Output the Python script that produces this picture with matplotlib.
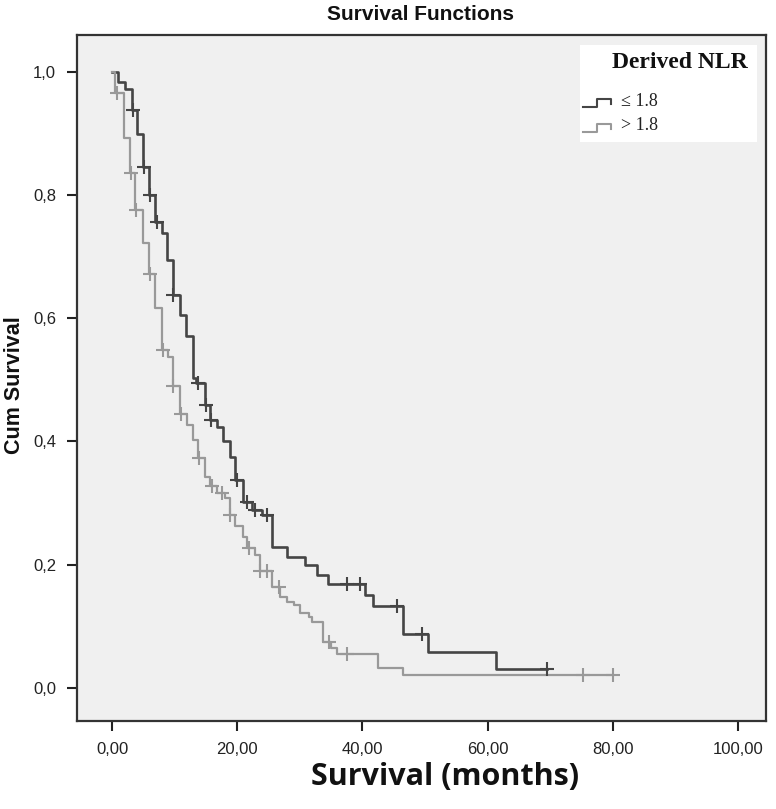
import numpy as np
import matplotlib
matplotlib.use("Agg")
import matplotlib.pyplot as plt
from matplotlib.lines import Line2D
from matplotlib.patches import Rectangle

# ---- data ----
low_times = [0, 1.0, 2.1, 3.2, 4.0, 5.0, 5.9, 6.9, 8.0, 8.8, 9.7, 10.9, 11.8, 12.9, 13.4,
             14.9, 15.7, 16.8, 17.7, 18.9, 19.6, 20.9, 22.4, 24.0, 25.6, 28.0, 30.8,
             32.7, 34.5, 40.4, 41.7, 46.5, 50.5, 61.3]
low_surv = [1.0, 0.984, 0.972, 0.938, 0.90, 0.846, 0.80, 0.756, 0.738, 0.695, 0.638,
            0.605, 0.571, 0.503, 0.495, 0.459, 0.435, 0.424, 0.40, 0.375, 0.338, 0.302,
            0.289, 0.281, 0.229, 0.213, 0.20, 0.183, 0.169, 0.151, 0.132, 0.088, 0.058,
            0.031]
low_censor = [3.3, 5.1, 6.0, 7.2, 9.8, 13.8, 15.0, 15.8, 20.0, 21.6, 22.9, 24.8,
              37.5, 39.6, 45.5, 49.5, 69.5]
low_end = 69.5

high_times = [0, 0.5, 1.9, 2.9, 3.7, 4.9, 5.9, 6.9, 8.0, 9.0, 9.7, 10.9, 12.0, 12.9,
              13.7, 14.9, 15.6, 16.8, 18.0, 18.8, 19.6, 20.9, 21.6, 22.8, 23.6, 25.6,
              26.8, 28.0, 29.0, 30.0, 31.5, 32.0, 33.7, 35.0, 36.0, 42.5, 46.5]
high_surv = [1.0, 0.966, 0.893, 0.836, 0.776, 0.722, 0.672, 0.617, 0.549, 0.537, 0.49,
             0.445, 0.427, 0.403, 0.373, 0.343, 0.327, 0.316, 0.308, 0.281, 0.262,
             0.245, 0.227, 0.216, 0.189, 0.164, 0.148, 0.14, 0.135, 0.122, 0.115,
             0.107, 0.075, 0.065, 0.054, 0.032, 0.021]
high_censor = [0.8, 3.0, 3.8, 6.0, 8.1, 9.8, 11.0, 13.9, 15.9, 17.5, 18.9, 21.9, 23.7,
               24.8, 26.6, 34.6, 37.5, 75.2, 80.0]
high_end = 80.0

groups = ["\u2264 1.8", "> 1.8"]
legend_title = "Derived NLR"
x_ticks = [0, 20, 40, 60, 80, 100]
y_ticks = [0.0, 0.2, 0.4, 0.6, 0.8, 1.0]

colors = ["#454545", "#999999"]

fig = plt.figure(figsize=(7.76, 8.09), dpi=100)
ax = fig.add_axes([77/776, 1-721/809, (766-77)/776, (721-35)/809])
ax.set_facecolor("#f0f0f0")


def step_value(times, surv, t):
    idx = np.searchsorted(np.asarray(times), t, side="right") - 1
    return np.asarray(surv)[idx]


for times, surv, cens, end, col, lw in [
        (low_times, low_surv, low_censor, low_end, colors[0], 1.9),
        (high_times, high_surv, high_censor, high_end, colors[1], 1.6)]:
    tt = list(times) + [end]
    ss = list(surv) + [surv[-1]]
    ax.step(tt, ss, where="post", color=col, lw=lw, zorder=3)
    cv = step_value(times, surv, np.asarray(cens))
    ax.plot(cens, cv, ls="none", marker="+", ms=10, mew=1.5, color=col, zorder=4)

ax.set_xlim(-5.6, 104.5)
ax.set_ylim(-0.054, 1.06)
ax.set_xticks(x_ticks)
ax.set_xticklabels([f"{v:.2f}".replace(".", ",") for v in x_ticks])
ax.set_yticks(y_ticks)
ax.set_yticklabels([f"{v:.1f}".replace(".", ",") for v in y_ticks])
ax.tick_params(direction="out", length=7, width=1.5, color="#222222",
               labelsize=12, pad=8, labelcolor="#222222")
for lab in ax.get_xticklabels() + ax.get_yticklabels():
    lab.set_fontfamily("Liberation Sans")
for sp in ax.spines.values():
    sp.set_linewidth(1.6)
    sp.set_color("#333333")

fig.text(421/776, 1-15/809, "Survival Functions", ha="center", va="center",
         fontsize=15, fontweight="bold", family="Liberation Sans", color="#111111")
fig.text(15/776, 1-385/809, "Cum Survival", ha="center", va="center", rotation=90,
         fontsize=15.5, fontweight="bold", family="Liberation Sans", color="#111111")
fig.text(445/776, 1-777/809, "Survival (months)", ha="center", va="center",
         fontsize=22, fontweight="bold", family="Open Sans", color="#111111")

# legend box
bx0, bx1 = (580-77)/689, (757-77)/689
by0, by1 = (721-142)/686, (721-45)/686
ax.add_patch(Rectangle((bx0, by0), bx1-bx0, by1-by0, transform=ax.transAxes,
                       facecolor="white", edgecolor="none", zorder=5))
ax.text((680-77)/689, (721-62)/686, legend_title, transform=ax.transAxes,
        ha="center", va="center", fontsize=17, fontweight="bold",
        family="Liberation Serif", color="#111111", zorder=6)
for i, (g, col) in enumerate(zip(groups, colors)):
    yb = 107 + 25*i
    xs = np.array([583, 597, 597, 611, 611])
    ys = np.array([yb, yb, yb-8, yb-8, yb-3])
    ax.add_line(Line2D((xs-77)/689, (721-ys)/686, transform=ax.transAxes,
                       color=col, lw=1.5, zorder=6))
    ax.text((621-77)/689, (721-(yb-6))/686, g, transform=ax.transAxes,
            ha="left", va="center", fontsize=13, family="Liberation Serif",
            color="#222222", zorder=6)

fig.savefig("out.png", dpi=100, facecolor="white")
